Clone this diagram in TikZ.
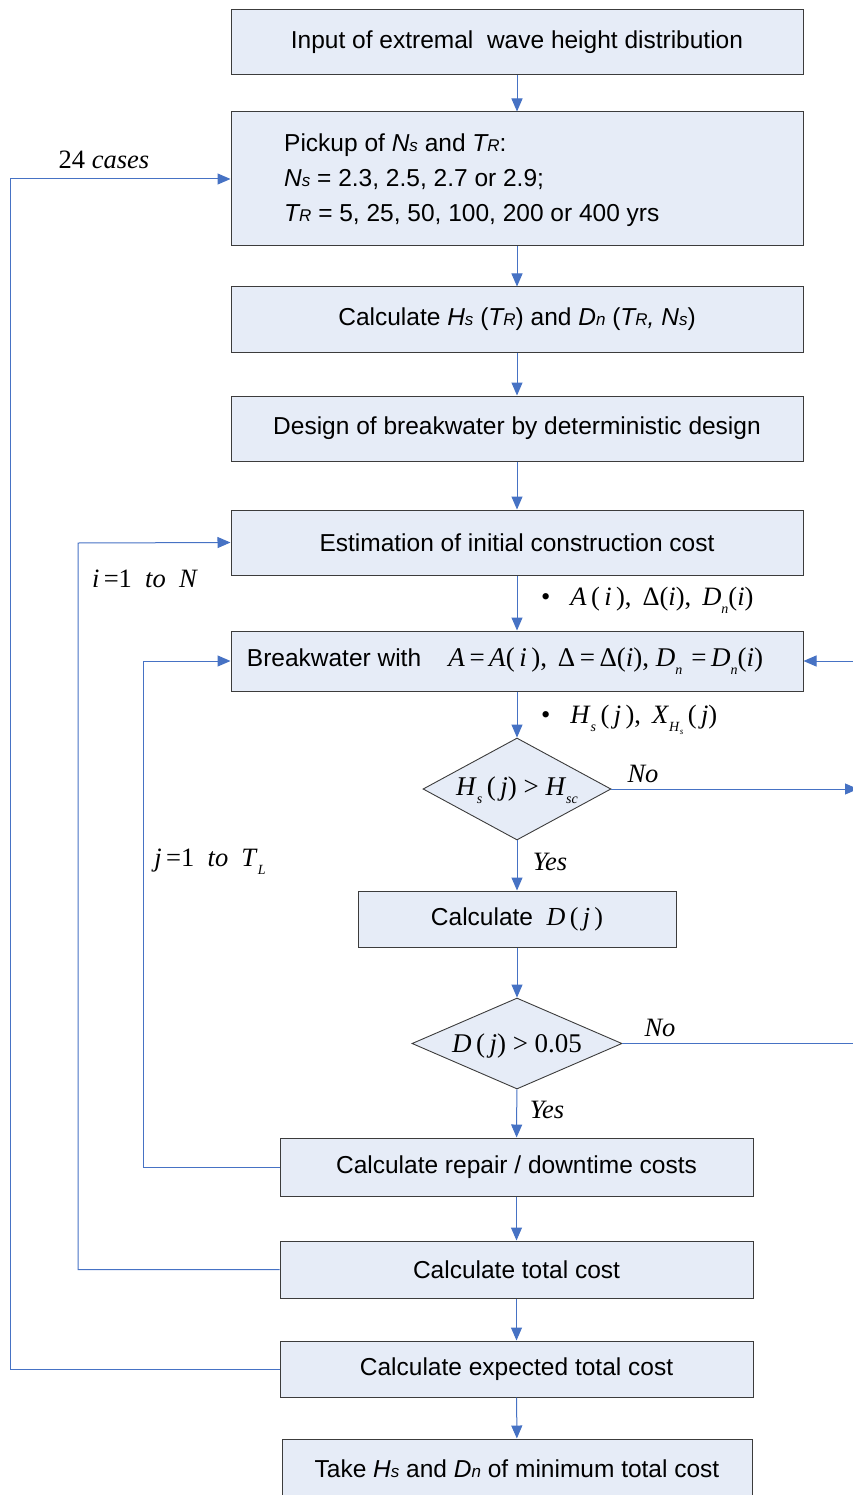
\documentclass[tikz,border=0pt]{standalone}
\usepackage{fontspec}
\setmainfont{Liberation Sans}
\newfontfamily\serif{Liberation Serif}
\usetikzlibrary{arrows.meta,shapes.geometric}
\definecolor{boxfill}{RGB}{230,236,247}
\definecolor{lineblue}{RGB}{70,114,196}
\definecolor{boxline}{RGB}{60,60,60}
\newcommand\smi[1]{{\fontsize{17}{17}\selectfont\itshape #1}}
\newcommand\mi[1]{\textit{#1}}
\newcommand\lo[1]{\raisebox{-0.3em}{\fontsize{14}{14}\selectfont\itshape #1}}
\begin{document}
\begin{tikzpicture}[x=1pt,y=-1pt,
  box/.style={draw=boxline,fill=boxfill,line width=1pt,inner sep=0pt,font=\fontsize{24.5}{30}\selectfont},
  dia/.style={diamond,draw=boxline,fill=boxfill,line width=0.9pt,inner sep=0pt},
  conn/.style={draw=lineblue,line width=1pt,-{Triangle[length=13pt,width=11pt]}},
  plain/.style={draw=lineblue,line width=1pt},
  lbl/.style={font=\serif\fontsize{26.5}{30}\selectfont,inner sep=0pt},
  dtext/.style={font=\serif\fontsize{27}{30}\selectfont,inner sep=0pt}]
\useasboundingbox (0,0) rectangle (852,1495);
% boxes
\node[box,minimum width=572pt,minimum height=65pt] (input) at (517,42.5) {Input of extremal\ \ wave height distribution};
\node[box,minimum width=572pt,minimum height=134pt] (pick) at (517,179) {};
\node[anchor=west,inner sep=0pt,font=\fontsize{24.5}{35}\selectfont,align=left] (picktxt) at (284,180)
  {Pickup of {\itshape N\smi{s}} and {\itshape T\smi{R}}:\\
   {\itshape N\smi{s}} = 2.3, 2.5, 2.7 or 2.9;\\
   {\itshape T\smi{R}} = 5, 25, 50, 100, 200 or 400 yrs};
\node[box,minimum width=572pt,minimum height=65pt] (calch) at (517,319.5)
  {Calculate {\itshape H\smi{s}} ({\itshape T\smi{R}}) and {\itshape D\smi{n}} ({\itshape T\smi{R}, N\smi{s}})};
\node[box,minimum width=572pt,minimum height=65pt] (design) at (517,428.5) {Design of breakwater by deterministic design};
\node[box,minimum width=572pt,minimum height=65pt] (est) at (517,542.5) {Estimation of initial construction cost};
\node[box,minimum width=572pt,minimum height=60pt] (brk) at (517,661) {};
\node[inner sep=0pt,font=\fontsize{24.5}{30}\selectfont] (brktxt) at (505,661)
  {Breakwater with\ \ \ \ {\serif\fontsize{27}{30}\selectfont\mi{A}\,=\,\mi{A}(\,\mi{i}\,), $\,$Δ\,=\,Δ(\mi{i}), \mi{D}\lo{n}\,\,=\,\mi{D}\lo{n}(\mi{i})}};
\node[dia,minimum width=188pt,minimum height=102pt] (d1) at (517,789) {};
\node[dtext] (d1txt) at (517,790) {\mi{H}\lo{s}\,(\,\mi{j}) > \mi{H}\lo{sc}};
\node[box,minimum width=318pt,minimum height=56pt] (calcd) at (517,919)
  {Calculate\ \ {\serif\fontsize{26}{30}\selectfont\mi{D}\,(\,\mi{j}\,)}};
\node[dia,minimum width=210pt,minimum height=91pt] (d2) at (517,1043.5) {};
\node[dtext] (d2txt) at (517,1046) {\mi{D}\,(\,\mi{j}) > 0.05};
\node[box,minimum width=473pt,minimum height=58pt] (rep) at (516.5,1167) {Calculate repair / downtime costs};
\node[box,minimum width=473pt,minimum height=57pt] (tot) at (516.5,1269.5) {Calculate total cost};
\node[box,minimum width=473pt,minimum height=56pt] (exp) at (516.5,1369) {Calculate expected total cost};
\node[box,minimum width=470pt,minimum height=60pt] (take) at (517,1469)
  {Take {\itshape H\smi{s}} and {\itshape D\smi{n}} of minimum total cost};
% main flow
\draw[conn] (input) -- (pick);
\draw[conn] (pick) -- (calch);
\draw[conn] (calch) -- (design);
\draw[conn] (design) -- (est);
\draw[conn] (est) -- (brk);
\draw[conn] (brk) -- (d1);
\draw[conn] (d1) -- (calcd);
\draw[conn] (calcd) -- (d2);
\draw[conn] (d2) -- (rep);
\draw[conn] (rep) -- (tot);
\draw[conn] (tot) -- (exp);
\draw[conn] (exp) -- (take);
% loops
\draw[conn] (exp.west) -| (10,179) -- (pick.west);
\draw[conn] (tot.west) -| (78,543) -- (est.west);
\draw[conn] (rep.west) -| (143,661) -- (brk.west);
% right side
\coordinate (rin) at (853,661);
\coordinate (rno1) at (858,789);
\coordinate (rno2) at (853,1043.5);
\draw[conn] (rin) -- (brk.east);
\draw[conn] (d1.east) -- (rno1);
\draw[plain] (d2.east) -- (rno2);
% labels
\node[lbl] (l24) at (104,160) {24 \mi{cases}};
\node[lbl] (li) at (145,579) {\mi{i}\,=1\ \ \mi{to}\ \ \mi{N}};
\node[lbl] (lj) at (210,862) {\mi{j}\,=1\ \ \mi{to}\ \ \mi{T}\lo{L}};
\node[lbl,anchor=west] (la) at (541,600) {•\ \ \ \mi{A}\,(\,\mi{i}\,),\, Δ(\mi{i}),\, \mi{D}\lo{n}(\mi{i})};
\node[lbl,anchor=west] (lh) at (541,720) {•\ \ \ \mi{H}\lo{s}\,(\,\mi{j}\,),\, \mi{X}\raisebox{-0.3em}{\fontsize{14}{14}\selectfont\mi{H}\raisebox{-0.2em}{\fontsize{9}{9}\selectfont\mi{s}}}\,(\,\mi{j})};
\node[lbl] (no1) at (643,774) {\mi{No}};
\node[lbl] (yes1) at (550,862) {\mi{Yes}};
\node[lbl] (no2) at (660,1028) {\mi{No}};
\node[lbl] (yes2) at (547,1110) {\mi{Yes}};
\end{tikzpicture}
\end{document}
